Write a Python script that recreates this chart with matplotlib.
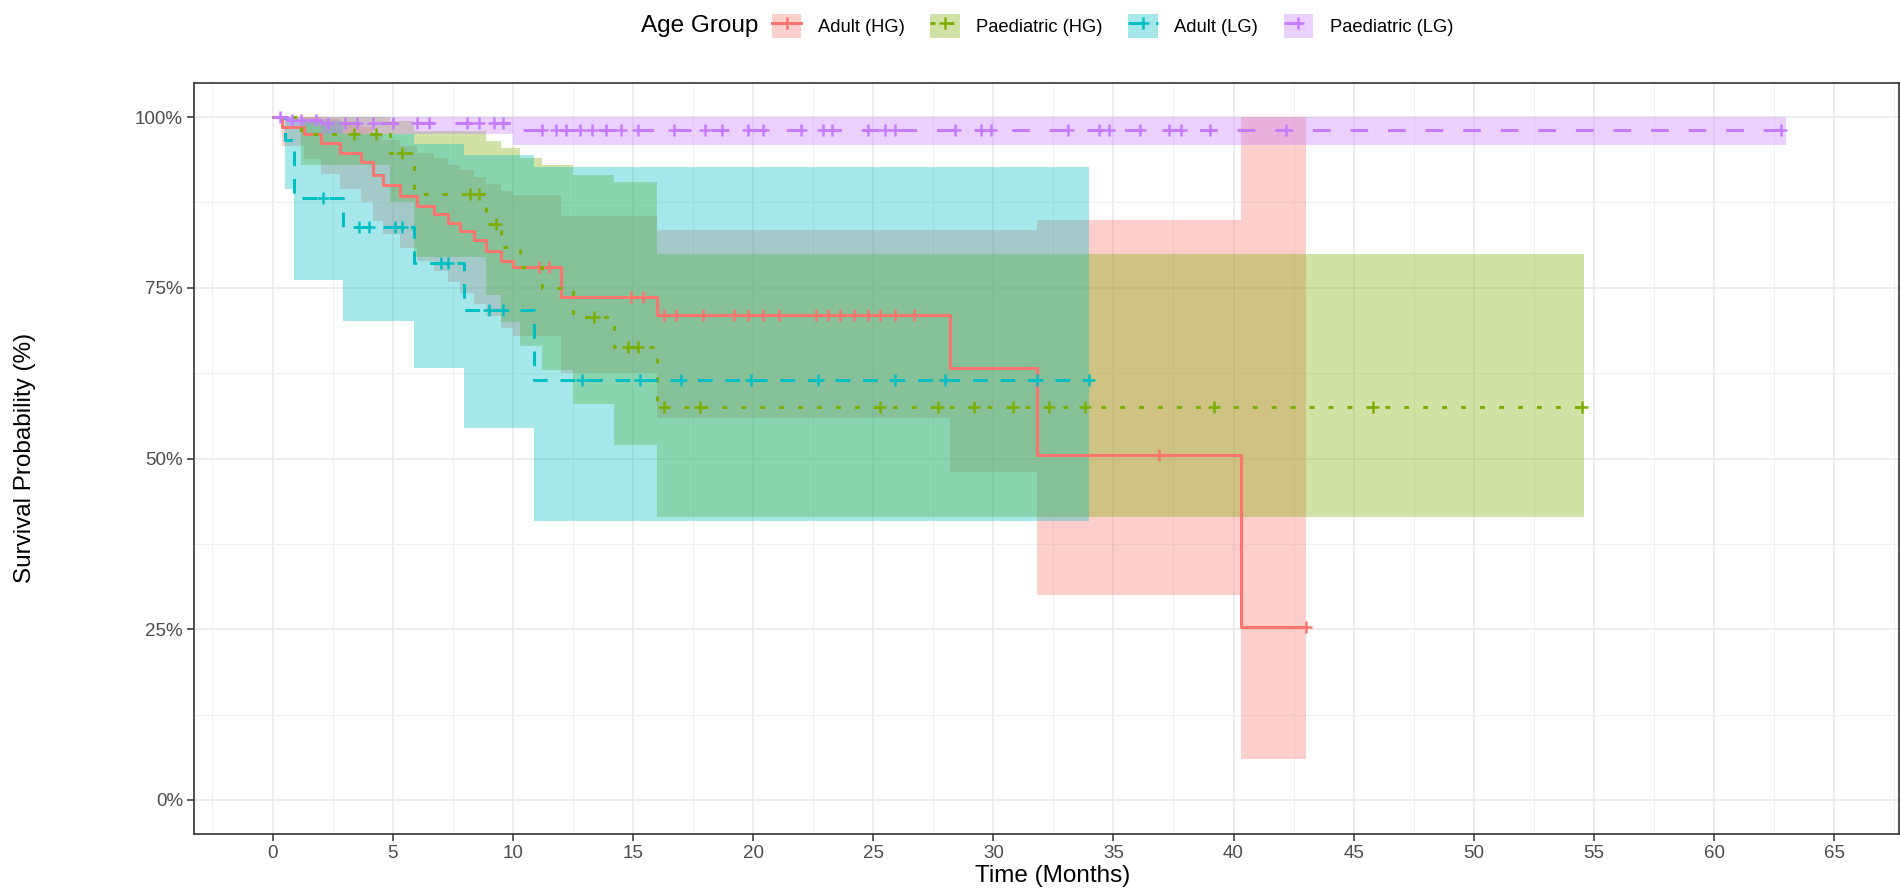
import numpy as np
import matplotlib.pyplot as plt
from matplotlib.patches import Patch
from matplotlib.lines import Line2D
from matplotlib.ticker import MultipleLocator, FuncFormatter

plt.rcParams['font.family'] = ['Liberation Sans', 'DejaVu Sans']

groups = ["Adult (HG)", "Paediatric (HG)", "Adult (LG)", "Paediatric (LG)"]
colors = ["#F8766D", "#7CAE00", "#00BFC4", "#C77CFF"]

# Kaplan-Meier steps (months, %)
adult_hg_time = [0, 0.4, 1.3, 2.0, 2.8, 3.7, 4.2, 4.6, 5.3, 6.0, 6.7, 7.3, 7.8, 8.4, 8.9, 9.5, 10.0, 12.0, 16.0, 28.2, 31.8, 40.3]
adult_hg_surv = [100, 98.5, 97.5, 96.2, 94.8, 93.5, 91.5, 90.0, 88.5, 87.0, 85.8, 84.5, 83.3, 82.0, 80.4, 79.0, 78.1, 73.7, 71.0, 63.2, 50.5, 25.3]
adult_hg_upper = [100, 100, 100, 99.8, 99.2, 98.5, 97.5, 96.7, 95.8, 94.8, 94.0, 93.0, 92.2, 91.3, 90.2, 89.2, 88.6, 85.5, 83.4, 83.4, 85.0, 100]
adult_hg_lower = [100, 95.8, 93.8, 91.6, 89.5, 87.6, 84.8, 82.9, 80.9, 79.0, 77.5, 75.8, 74.3, 72.7, 70.8, 69.1, 68.0, 62.5, 56.0, 48.0, 30.0, 6.0]
adult_hg_end = 43.0
adult_hg_censor = [11.1, 11.5, 14.9, 15.4, 16.3, 16.8, 17.9, 19.2, 19.8, 20.4, 21.1, 22.6, 23.1, 23.6, 24.2, 24.8, 25.3, 25.9, 26.7, 36.9, 43.0]

paed_hg_time = [0, 1.2, 4.9, 5.9, 8.9, 9.5, 10.3, 11.2, 12.5, 14.2, 16.0]
paed_hg_surv = [100, 97.6, 94.7, 88.7, 84.3, 81.0, 78.0, 75.0, 70.7, 66.4, 57.6]
paed_hg_upper = [100, 100, 99.5, 98.0, 96.5, 95.5, 94.0, 93.0, 91.5, 90.5, 80.0]
paed_hg_lower = [100, 93.0, 87.5, 79.5, 74.0, 70.0, 66.5, 63.0, 58.0, 52.0, 41.4]
paed_hg_end = 54.6
paed_hg_censor = [3.4, 4.3, 5.4, 8.2, 8.6, 9.3, 13.4, 14.8, 15.2, 16.3, 17.8, 25.3, 27.7, 29.2, 30.8, 32.3, 33.8, 39.2, 45.8, 54.5]

adult_lg_time = [0, 0.5, 0.9, 2.95, 5.9, 7.95, 10.9]
adult_lg_surv = [100, 96.6, 88.2, 83.9, 78.6, 71.7, 61.5]
adult_lg_upper = [100, 100, 99.5, 97.5, 96.0, 94.5, 92.7]
adult_lg_lower = [100, 89.5, 76.2, 70.1, 63.3, 54.4, 40.8]
adult_lg_end = 34.0
adult_lg_censor = [2.1, 3.6, 4.0, 5.1, 5.4, 7.0, 7.3, 9.0, 9.6, 12.9, 15.3, 17.0, 19.9, 22.7, 25.9, 28.0, 31.8, 34.0]

paed_lg_time = [0, 0.6, 2.0, 10.0]
paed_lg_surv = [100, 99.6, 99.2, 98.1]
paed_lg_upper = [100, 100, 100, 100]
paed_lg_lower = [100, 98.8, 97.6, 95.9]
paed_lg_end = 63.0
paed_lg_censor = [0.3, 0.8, 1.2, 1.8, 2.3, 3.0, 3.5, 4.2, 5.0, 6.0, 6.5, 8.1, 8.6, 9.2, 9.6, 11.2, 11.8,
                  12.2, 12.8, 13.3, 13.9, 14.5, 15.2, 16.7, 18.0, 18.7, 19.8, 20.4, 22.0, 22.9, 23.3, 24.8,
                  25.5, 25.9, 28.4, 29.5, 29.9, 33.1, 34.4, 34.8, 36.1, 37.3, 37.8, 39.0, 42.2, 62.8]

curves = [
    (adult_hg_time, adult_hg_surv, adult_hg_upper, adult_hg_lower, adult_hg_end, adult_hg_censor),
    (paed_hg_time, paed_hg_surv, paed_hg_upper, paed_hg_lower, paed_hg_end, paed_hg_censor),
    (adult_lg_time, adult_lg_surv, adult_lg_upper, adult_lg_lower, adult_lg_end, adult_lg_censor),
    (paed_lg_time, paed_lg_surv, paed_lg_upper, paed_lg_lower, paed_lg_end, paed_lg_censor),
]
linestyles = ["-", (0, (1.6, 4.6)), (0, (4.8, 4.2)), (0, (5.8, 6.5))]
band_alpha = 0.35
line_w = 2.2

W, H = 1900, 892
fig = plt.figure(figsize=(W / 100, H / 100), dpi=100)
ax = fig.add_axes([194 / W, 1 - 834 / H, (1899 - 194) / W, (834 - 83) / H])

# ribbons first, then lines and censor marks on top
for (t, s, up, lo, end, cens), col in zip(curves, colors):
    tx = np.append(t, end)
    ax.fill_between(tx, np.append(lo, lo[-1]), np.append(up, up[-1]), step="post",
                    color=col, alpha=band_alpha, linewidth=0)

for (t, s, up, lo, end, cens), col, ls in zip(curves, colors, linestyles):
    tx = np.append(t, end)
    sx = np.append(s, s[-1])
    ax.step(tx, sx, where="post", color=col, lw=line_w, linestyle=ls)
    idx = np.searchsorted(t, cens, side="right") - 1
    ax.plot(cens, np.array(s)[idx], linestyle="none", marker="+", markersize=9,
            mew=1.8, color=col)

ax.set_xlim(-3.27, 67.7)
ax.set_ylim(-5, 105)
ax.xaxis.set_major_locator(MultipleLocator(5))
ax.xaxis.set_minor_locator(MultipleLocator(2.5))
ax.yaxis.set_major_locator(MultipleLocator(25))
ax.yaxis.set_minor_locator(MultipleLocator(12.5))
ax.yaxis.set_major_formatter(FuncFormatter(lambda v, p: f"{v:.0f}%"))
ax.set_axisbelow(True)
ax.grid(which="major", color="#E8E8E8", lw=1.1)
ax.grid(which="minor", color="#F1F1F1", lw=0.7)
ax.tick_params(which="major", labelsize=13.5, colors="#333333", labelcolor="#4D4D4D",
               length=5, width=1.1, pad=3)
ax.tick_params(which="minor", length=0)
for sp in ax.spines.values():
    sp.set_color("#333333")
    sp.set_linewidth(1.2)

fig.text(1053 / W, 1 - 876 / H, "Time (Months)", ha="center", va="center", fontsize=17.5)
fig.text(25 / W, 1 - 458 / H, "Survival Probability (%)", ha="center", va="center",
         rotation=90, fontsize=17.5)

handles = []
for col, ls in zip(colors, linestyles):
    handles.append((Patch(facecolor=col, alpha=band_alpha, edgecolor="none"),
                    Line2D([], [], color=col, lw=line_w, linestyle=ls, marker="+",
                           markersize=9, mew=1.8)))
fig.text(758 / W, 1 - 26 / H, "Age Group", ha="right", va="center", fontsize=17.5)
fig.legend(handles, groups, loc="center left", bbox_to_anchor=(772 / W, 1 - 26 / H),
           ncol=4, frameon=False, fontsize=13.2, handlelength=1.6, handleheight=1.6,
           handletextpad=0.9, columnspacing=1.4, borderpad=0, borderaxespad=0)

fig.savefig("out.png", dpi=100)
